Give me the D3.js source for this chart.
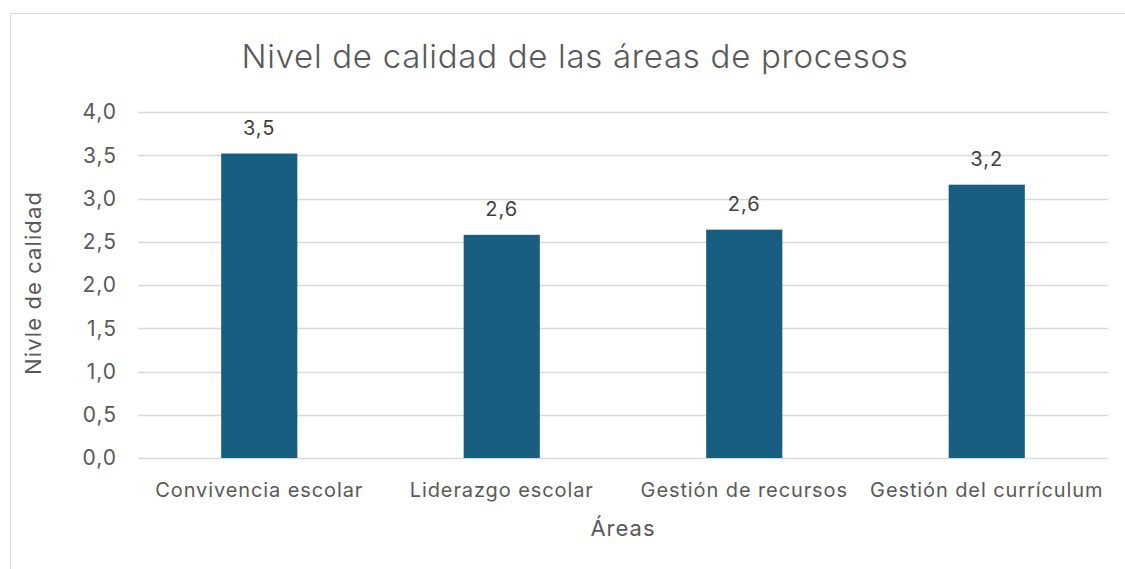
<!DOCTYPE html>
<html>
<head>
<meta charset="utf-8">
<script src="https://cdn.jsdelivr.net/npm/d3@7"></script>
<style>
  body { margin: 0; background: #fff; }
  svg { display: block; font-family: Inter, "Open Sans", sans-serif; }
</style>
</head>
<body>
<div id="chart"></div>
<script>
// Data
const categories = ["Convivencia escolar", "Liderazgo escolar", "Gestión de recursos", "Gestión del currículum"];
const values = [3.52, 2.58, 2.64, 3.16];
const yTicks = [0, 0.5, 1, 1.5, 2, 2.5, 3, 3.5, 4];

const W = 1125, H = 569;
const margin = { top: 112, right: 17, bottom: 111, left: 138 };
const width = W - margin.left - margin.right;
const height = H - margin.top - margin.bottom;
const textColor = "#595959";
const fmt = v => v.toFixed(1).replace(".", ",");

const svg = d3.select("#chart").append("svg")
  .attr("width", W)
  .attr("height", H);

// Chart frame (runs off the right and bottom edges)
svg.append("path")
  .attr("d", `M10.5,${H + 2} V13.5 H${W + 2}`)
  .style("fill", "none")
  .style("stroke", "#d9d9d9")
  .style("stroke-width", 1);

// Title
svg.append("text")
  .attr("x", 575)
  .attr("y", 68)
  .style("text-anchor", "middle")
  .style("font-size", "33px")
  .style("font-weight", 300)
  .style("letter-spacing", "0.7px")
  .style("fill", textColor)
  .text("Nivel de calidad de las áreas de procesos");

const g = svg.append("g")
  .attr("transform", `translate(${margin.left},${margin.top})`);

const x = d3.scaleBand().domain(categories).range([0, width]).paddingInner(0.686).paddingOuter(0.343);
const y = d3.scaleLinear().domain([0, 4]).range([height, 0]);

// Gridlines
g.selectAll(".grid")
  .data(yTicks)
  .enter().append("line")
  .attr("x1", 0)
  .attr("x2", width)
  .attr("y1", d => Math.round(y(d)) + 0.5)
  .attr("y2", d => Math.round(y(d)) + 0.5)
  .style("stroke", "#d9d9d9")
  .style("stroke-width", 1.5);

// Y tick labels
g.selectAll(".ytick")
  .data(yTicks)
  .enter().append("text")
  .attr("x", -21)
  .attr("y", d => y(d))
  .attr("dy", "0.35em")
  .style("text-anchor", "end")
  .style("font-size", "21px")
  .style("letter-spacing", "1px")
  .style("fill", textColor)
  .text(fmt);

// Bars
g.selectAll(".bar")
  .data(values)
  .enter().append("rect")
  .attr("x", (d, i) => x(categories[i]))
  .attr("y", d => y(d))
  .attr("width", x.bandwidth())
  .attr("height", d => height - y(d))
  .style("fill", "#175e80");

// Value labels
g.selectAll(".vlabel")
  .data(values)
  .enter().append("text")
  .attr("x", (d, i) => x(categories[i]) + x.bandwidth() / 2)
  .attr("y", d => y(d) - 19)
  .style("text-anchor", "middle")
  .style("font-size", "20px")
  .style("letter-spacing", "1px")
  .style("fill", "#404040")
  .text(fmt);

// Category labels
g.selectAll(".xtick")
  .data(categories)
  .enter().append("text")
  .attr("x", d => x(d) + x.bandwidth() / 2)
  .attr("y", height + 39)
  .style("text-anchor", "middle")
  .style("font-size", "20px")
  .style("letter-spacing", "0.9px")
  .style("fill", textColor)
  .text(d => d);

// Axis titles
svg.append("text")
  .attr("x", margin.left + width / 2)
  .attr("y", 536)
  .style("text-anchor", "middle")
  .style("font-size", "22px")
  .style("letter-spacing", "1px")
  .style("fill", textColor)
  .text("Áreas");

svg.append("text")
  .attr("transform", `translate(41,${margin.top + height / 2 - 2}) rotate(-90)`)
  .style("text-anchor", "middle")
  .style("font-size", "22px")
  .style("letter-spacing", "1.1px")
  .style("fill", textColor)
  .text("Nivle de calidad");
</script>
</body>
</html>
